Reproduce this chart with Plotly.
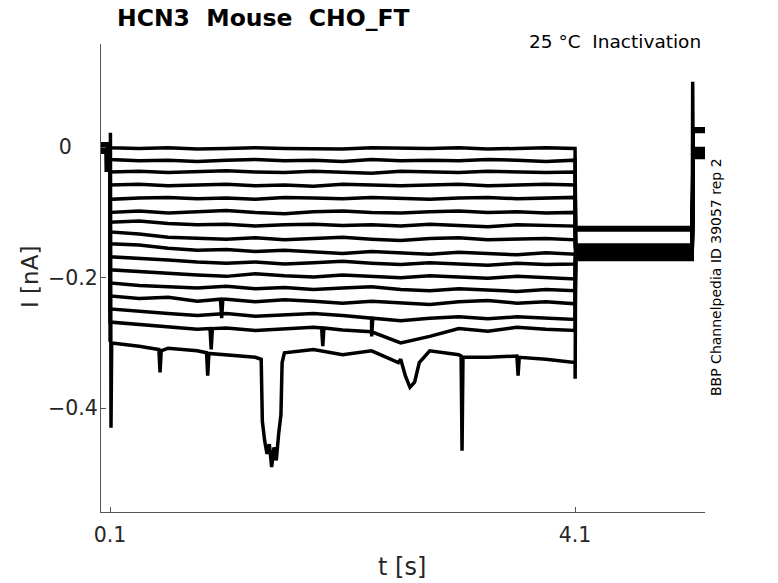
import plotly.graph_objects as go

# ---------------- data ----------------
PRE_T = [0.022, 0.060, 0.099]
PULSE_T = [0.10, 0.35, 0.60, 0.85, 1.10, 1.35, 1.60, 1.85, 2.10, 2.35,
           2.60, 2.85, 3.10, 3.35, 3.60, 3.85, 4.10]
POST_T = [4.105, 4.35, 4.60, 4.85, 5.108]
TAIL_T = [5.116, 5.16, 5.218]

X_TICKS = [0.1, 4.1]
X_TICK_TEXT = ["0.1", "4.1"]
Y_TICKS = [0, -0.2, -0.4]
Y_TICK_TEXT = ["0\u2007\u2007", "\u22120.2", "\u22120.4"]

PRE_LEVEL = [0.002, -0.003, 0.004, -0.006, 0.000, 0.003, -0.004, -0.008,
             0.001, -0.002, 0.005, -0.005, 0.002, -0.001, -0.007, 0.003]

I_01 = [-0.001, -0.002, -0.001, -0.003, -0.002, -0.001, -0.002, -0.002, -0.003,
        -0.001, -0.002, -0.002, -0.001, -0.003, -0.002, -0.001, -0.002]
I_02 = [-0.019, -0.021, -0.020, -0.022, -0.020, -0.019, -0.021, -0.020, -0.022,
        -0.019, -0.021, -0.020, -0.021, -0.019, -0.020, -0.022, -0.020]
I_03 = [-0.038, -0.037, -0.039, -0.038, -0.036, -0.038, -0.039, -0.037, -0.038,
        -0.040, -0.037, -0.038, -0.039, -0.037, -0.038, -0.039, -0.038]
I_04 = [-0.058, -0.057, -0.059, -0.058, -0.057, -0.059, -0.058, -0.060, -0.057,
        -0.058, -0.059, -0.058, -0.057, -0.059, -0.058, -0.057, -0.058]
I_05 = [-0.080, -0.078, -0.077, -0.079, -0.078, -0.080, -0.077, -0.078, -0.079,
        -0.077, -0.078, -0.080, -0.078, -0.077, -0.079, -0.078, -0.077]
I_06 = [-0.100, -0.098, -0.101, -0.099, -0.097, -0.100, -0.102, -0.099, -0.098,
        -0.100, -0.101, -0.099, -0.098, -0.100, -0.099, -0.101, -0.100]
I_07 = [-0.115, -0.113, -0.117, -0.119, -0.118, -0.121, -0.119, -0.118, -0.120,
        -0.119, -0.121, -0.118, -0.120, -0.122, -0.119, -0.120, -0.121]
I_08 = [-0.130, -0.133, -0.138, -0.140, -0.141, -0.139, -0.142, -0.140, -0.138,
        -0.141, -0.143, -0.140, -0.139, -0.142, -0.141, -0.140, -0.142]
I_09 = [-0.148, -0.150, -0.155, -0.158, -0.157, -0.160, -0.158, -0.161, -0.163,
        -0.160, -0.162, -0.164, -0.161, -0.163, -0.165, -0.162, -0.164]
I_10 = [-0.168, -0.170, -0.173, -0.176, -0.178, -0.176, -0.179, -0.177, -0.175,
        -0.178, -0.180, -0.177, -0.179, -0.181, -0.178, -0.180, -0.179]
I_11 = [-0.188, -0.191, -0.193, -0.196, -0.198, -0.194, -0.197, -0.199, -0.196,
        -0.198, -0.200, -0.197, -0.199, -0.201, -0.198, -0.200, -0.202]
I_12 = [-0.208, -0.212, -0.214, -0.216, -0.213, -0.217, -0.215, -0.218, -0.216,
        -0.214, -0.218, -0.220, -0.217, -0.219, -0.221, -0.218, -0.220]
I_13 = [-0.228, -0.232, -0.230, -0.236, -0.233, -0.237, -0.234, -0.236, -0.239,
        -0.236, -0.238, -0.241, -0.237, -0.235, -0.239, -0.237, -0.240]
I_14 = [-0.248, -0.252, -0.255, -0.258, -0.255, -0.259, -0.257, -0.255, -0.258,
        -0.262, -0.266, -0.262, -0.260, -0.263, -0.260, -0.262, -0.264]
I_15 = [-0.268, -0.272, -0.276, -0.279, -0.277, -0.281, -0.279, -0.276, -0.280,
        -0.283, -0.300, -0.290, -0.278, -0.282, -0.276, -0.279, -0.281]
I_16 = [-0.298, -0.305, -0.308, -0.312, -0.318, -0.322, -0.315, -0.310, -0.318,
        -0.312, -0.325, -0.312, -0.318, -0.322, -0.320, -0.325, -0.330]

POST_LEVEL = [-0.123, -0.127, -0.150, -0.152, -0.154, -0.156, -0.158, -0.160,
              -0.161, -0.163, -0.164, -0.166, -0.167, -0.169, -0.170, -0.172]
TAIL_LEVEL = [0.026, 0.024, 0.028, -0.002, -0.004, -0.006, -0.007, -0.008,
              -0.009, -0.010, -0.011, -0.012, -0.013, -0.014, -0.015, -0.016]

# transient / spike events: (trace number, time, current)
EVT_TRACE = [5, 5, 5,
             16, 16, 16,
             16, 16, 16, 16, 16, 16,
             16, 16, 16, 16, 16, 16, 16, 16, 16, 16, 16,
             16, 16, 16, 16, 16,
             16, 16, 16,
             16, 16, 16,
             16, 16,
             15, 15, 15, 15, 15, 15,
             14, 14, 14, 13, 13, 13]
EVT_T = [0.064, 0.067, 0.070,
         0.103, 0.108, 0.114,
         0.52, 0.53, 0.54, 0.93, 0.94, 0.95,
         1.40, 1.41, 1.43, 1.45, 1.47, 1.49, 1.51, 1.53, 1.55, 1.57, 1.58,
         2.58, 2.64, 2.68, 2.72, 2.76,
         3.12, 3.128, 3.136,
         3.60, 3.61, 3.62,
         4.101, 5.112,
         0.96, 0.97, 0.98, 1.92, 1.93, 1.94,
         2.34, 2.35, 2.36, 1.05, 1.06, 1.07]
EVT_I = [0.000, -0.038, 0.000,
         0.022, -0.430, -0.300,
         -0.310, -0.345, -0.312, -0.315, -0.350, -0.316,
         -0.325, -0.420, -0.450, -0.470, -0.455, -0.490, -0.460, -0.480, -0.440, -0.410, -0.330,
         -0.330, -0.350, -0.368, -0.360, -0.330,
         -0.320, -0.465, -0.322,
         -0.320, -0.350, -0.322,
         -0.355, 0.100,
         -0.278, -0.310, -0.278, -0.277, -0.305, -0.277,
         -0.262, -0.290, -0.262, -0.233, -0.262, -0.233]

PULSES = [I_01, I_02, I_03, I_04, I_05, I_06, I_07, I_08,
          I_09, I_10, I_11, I_12, I_13, I_14, I_15, I_16]

# ---------------- figure ----------------
fig = go.Figure()
for k, pulse in enumerate(PULSES):
    n = k + 1
    pts = [(t, PRE_LEVEL[k]) for t in PRE_T]
    pts += list(zip(PULSE_T, pulse))
    pts += [(t, POST_LEVEL[k]) for t in POST_T]
    pts += [(t, TAIL_LEVEL[k]) for t in TAIL_T]
    pts += [(t, v) for tr, t, v in zip(EVT_TRACE, EVT_T, EVT_I) if tr == n]
    pts.sort(key=lambda p: p[0])
    fig.add_trace(go.Scatter(
        x=[p[0] for p in pts], y=[p[1] for p in pts],
        mode="lines", line=dict(color="black", width=3.5),
        showlegend=False, hoverinfo="skip"))

W, H = 778, 583
L, R, T, B = 101, 705, 44, 512


def px(x):
    return (x - L) / (R - L)


def py(y):
    return (B - y) / (B - T)


tick_font = dict(family="DejaVu Sans", size=20.5, color="#262626")
fig.update_layout(
    width=W, height=H,
    margin=dict(l=L, r=W - R, t=T, b=H - B),
    paper_bgcolor="white", plot_bgcolor="white",
    font=dict(family="DejaVu Sans", color="#262626"),
    xaxis=dict(range=[0.022, 5.218], tickvals=X_TICKS, ticktext=X_TICK_TEXT,
               ticks="inside", ticklen=5, tickcolor="#555555",
               showline=True, linecolor="#555555", linewidth=1,
               showgrid=False, zeroline=False, tickfont=tick_font,
               ticklabelstandoff=4),
    yaxis=dict(range=[-0.559, 0.158], tickvals=Y_TICKS, ticktext=Y_TICK_TEXT,
               ticks="inside", ticklen=5, tickcolor="#555555",
               showline=True, linecolor="#555555", linewidth=1,
               showgrid=False, zeroline=False, tickfont=tick_font,
               ticklabelstandoff=-2),
)

fig.add_annotation(text="<b>HCN3  Mouse  CHO_FT</b>", xref="paper", yref="paper",
                   x=px(115), y=py(18), xanchor="left", yanchor="middle",
                   showarrow=False, font=dict(size=23.5, color="black"))
fig.add_annotation(text="25 °C  Inactivation", xref="paper", yref="paper",
                   x=px(703), y=py(41), xanchor="right", yanchor="middle",
                   showarrow=False, font=dict(size=18.5, color="black"))
fig.add_annotation(text="BBP Channelpedia ID 39057 rep 2", xref="paper", yref="paper",
                   x=px(716), y=py(277), xanchor="center", yanchor="middle",
                   textangle=-90, showarrow=False, font=dict(size=14, color="black"))
fig.add_annotation(text="t [s]", xref="paper", yref="paper",
                   x=px(402), y=py(567), xanchor="center", yanchor="middle",
                   showarrow=False, font=dict(size=24, color="#262626"))
fig.add_annotation(text="I [nA]", xref="paper", yref="paper",
                   x=px(30), y=py(277), xanchor="center", yanchor="middle",
                   textangle=-90, showarrow=False, font=dict(size=23, color="#262626"))

fig.write_html("out.html", config={"displayModeBar": False},
               post_script="document.body.style.margin='0';document.body.style.padding='0';")
